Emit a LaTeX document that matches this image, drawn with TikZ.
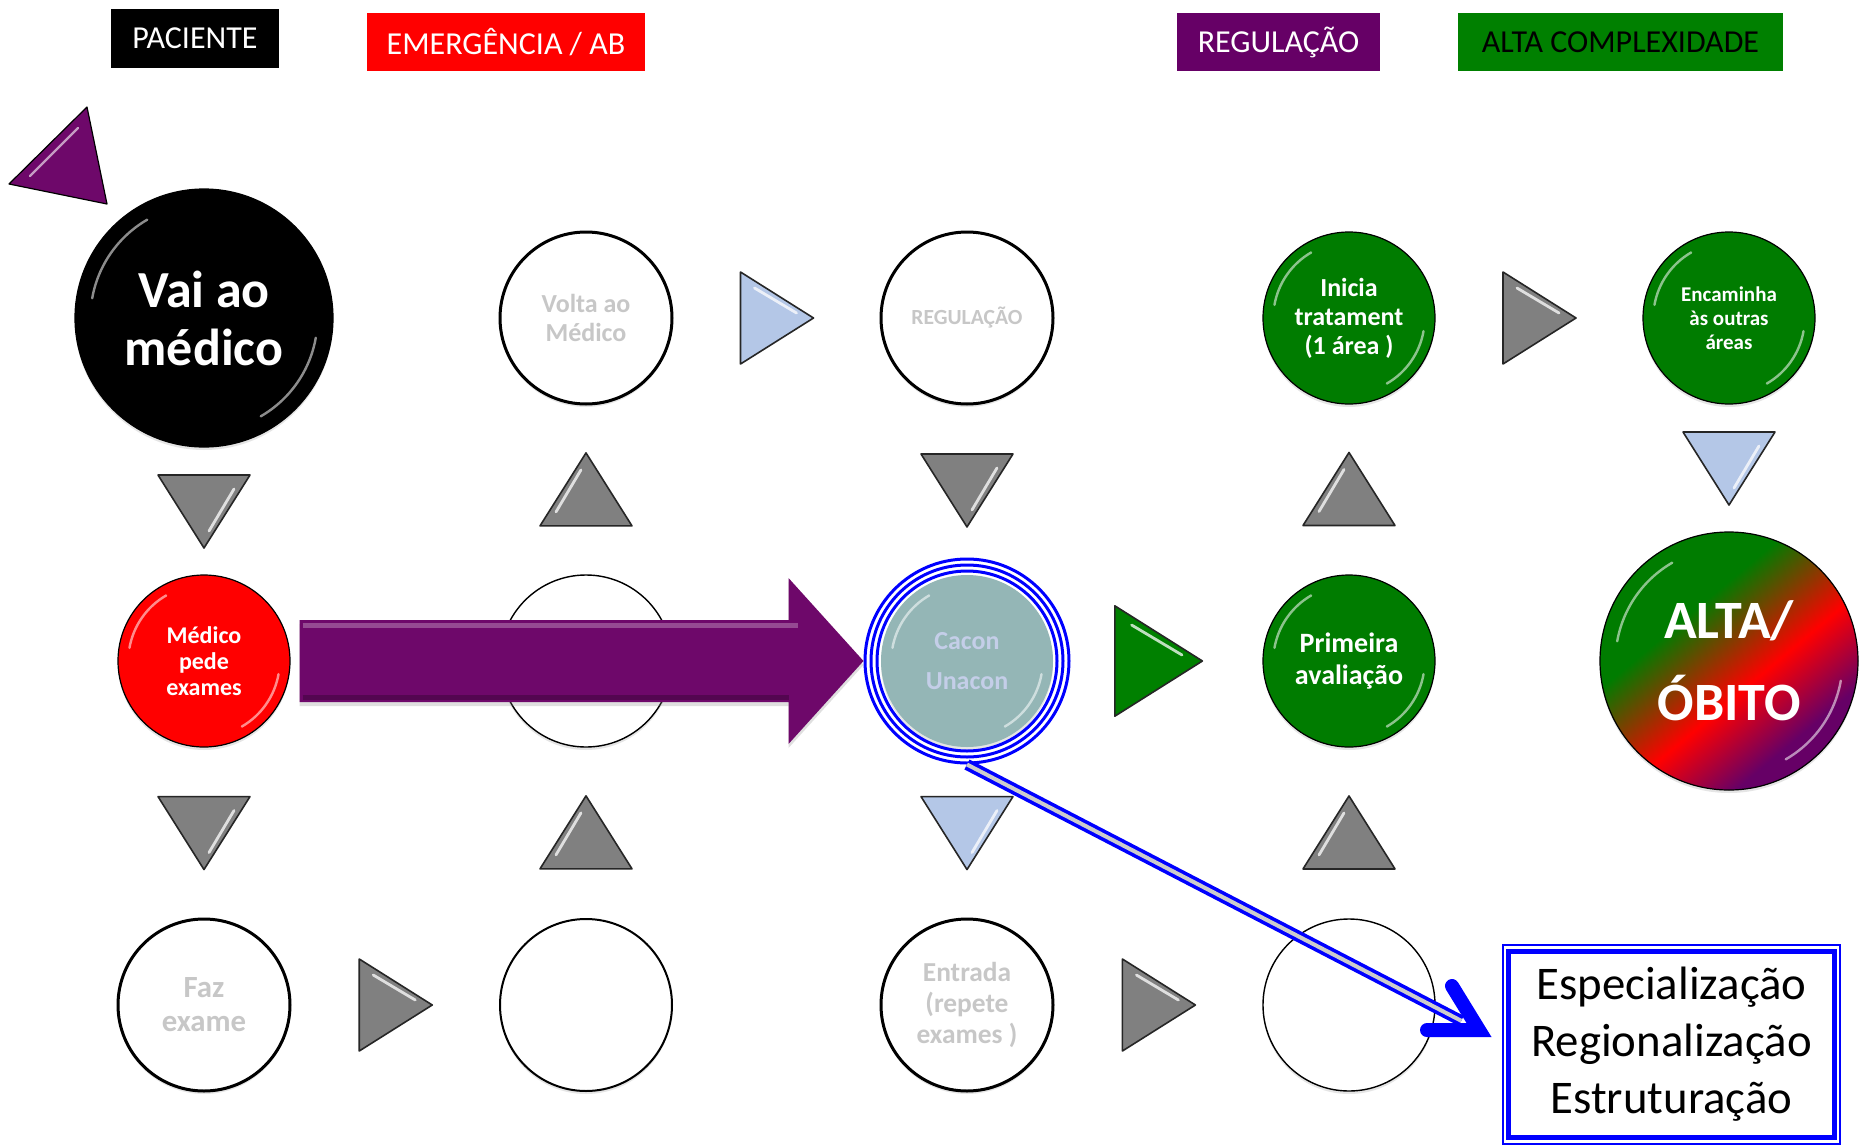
\documentclass[tikz,border=0pt]{standalone}
\usepackage{fontspec}
\setmainfont{Carlito}
\usetikzlibrary{calc,shadows}

\definecolor{regpurple}{RGB}{102,0,102}
\definecolor{arrowpurple}{RGB}{110,8,106}
\definecolor{altagreen}{RGB}{0,128,0}
\definecolor{ballgreen}{RGB}{0,124,0}
\definecolor{trigray}{RGB}{128,128,128}
\definecolor{triblue}{RGB}{180,199,231}
\definecolor{cacongray}{RGB}{148,182,182}
\definecolor{cacontext}{RGB}{196,206,232}
\pgfdeclareverticalshading{altashade}{100bp}{color(0bp)=(regpurple); color(30bp)=(regpurple);
  color(44bp)=(red); color(62bp)=(ballgreen); color(100bp)=(ballgreen)}

\begin{document}
\begin{tikzpicture}[x=0.5pt, y=-0.5pt,
  header/.style={fill=#1, inner sep=0pt, minimum height=29pt,
    font=\fontsize{16}{19}\selectfont},
  ball/.style={circle, inner sep=0pt, minimum size=86pt, align=center,
    font=\bfseries\fontsize{13}{14.5}\selectfont,
    drop shadow={shadow xshift=0pt, shadow yshift=-1.5pt, opacity=.2}},
  hollow/.style={ball, draw=black, line width=1.5pt, fill=white, text=black!22},
  glossy/.style={ball, draw=black, line width=.6pt, fill=#1, text=white,
    path picture={
      \draw[white, opacity=.55, line width=1.2pt, line cap=round]
        let \p1=(path picture bounding box.east), \p2=(path picture bounding box.center),
            \n1={0.88*(\x1-\x2)} in
        ($(\p2)+(170:\n1)$) arc[start angle=170, end angle=120, radius=\n1]
        ($(\p2)+(-10:\n1)$) arc[start angle=-10, end angle=-60, radius=\n1];
    }},
  tri/.pic={
    \draw[black!85, fill=#1, line width=.8pt, line join=round]
      (-36,-46) -- (37,0) -- (-36,46) -- cycle;
    \draw[white, opacity=.75, line width=1.4pt, line cap=round] (-22,-30) -- (20,-5);
  }]
  \path[use as bounding box, fill=white] (0,0) rectangle (1860,1146);

  \node[header=black, text=white, minimum width=84pt, minimum height=29.5pt] (paciente) at (195,38.5) {PACIENTE};
  \node[header=red, text=white, minimum width=139pt] (emerg) at (506,42) {EMERGÊNCIA / AB};
  \node[header=regpurple, text=white, minimum width=101.5pt] (regtitle) at (1278.5,42) {REGULAÇÃO};
  \node[header=altagreen, text=black, minimum width=162.5pt] (altatitle) at (1620.5,42) {ALTA COMPLEXIDADE};

  \fill[arrowpurple, draw=black, line width=.6pt, line join=round] (9,184) -- (87,107) -- (107,204) -- cycle;
  \draw[white, opacity=.6, line width=1.2pt, line cap=round] (30,176) -- (78,128);

  \node[glossy=black, minimum size=129pt, font=\bfseries\fontsize{26}{29}\selectfont] (vai) at (204,318) {Vai ao\\médico};
  \node[hollow] (volta) at (586,318) {Volta ao\\Médico};
  \node[hollow, font=\bfseries\fontsize{10.8}{13}\selectfont] (regul) at (967,318) {REGULAÇÃO};
  \node[glossy=ballgreen] (inicia) at (1349,318) {Inicia\\tratament\\(1 área )};
  \node[glossy=ballgreen, font=\bfseries\fontsize{10.5}{12}\selectfont] (encam) at (1729,318) {Encaminha\\às outras\\áreas};

  \node[glossy=red, font=\bfseries\fontsize{12}{13}\selectfont] (medico) at (204,661) {Médico\\pede\\exames};
  \node[hollow, line width=.7pt] (meio) at (586,661) {};
  \node[glossy=cacongray, draw=none, text=cacontext, font=\bfseries\fontsize{13}{20}\selectfont] (cacon) at (967,661) {Cacon\\Unacon};
  \node[circle, draw=blue, line width=1.5pt, minimum size=102pt, inner sep=0pt] (ring) at (cacon) {};
  \foreach \r in {96,90}
    \draw[blue, line width=1.5pt] (ring.center) circle[radius=\r];
  \node[glossy=ballgreen, font=\bfseries\fontsize{14}{16}\selectfont] (primeira) at (1349,661) {Primeira\\avaliação};
  \node[glossy=ballgreen, minimum size=129pt, shading=altashade, shading angle=40,
    font=\bfseries\fontsize{27}{41}\selectfont] (alta) at (1729,661) {ALTA/\\ÓBITO};

  \node[hollow, font=\bfseries\fontsize{15.4}{17}\selectfont] (faz) at (204,1005) {Faz\\exame};
  \node[hollow, line width=1pt] (vazio1) at (586,1005) {};
  \node[hollow, font=\bfseries\fontsize{13.7}{15.5}\selectfont] (entrada) at (967,1005) {Entrada\\(repete\\exames )};
  \node[hollow, line width=.7pt] (vazio2) at (1349,1005) {};

  \pic[rotate=-90] at ($(vai.south)!.5!(medico.north)$) {tri=trigray};
  \pic[rotate=90] at ($(volta.south)!.5!(meio.north)$) {tri=trigray};
  \pic at ($(volta.east)!.5!(regul.west)$) {tri=triblue};
  \pic[rotate=-90] at ($(regul.south)!.5!(cacon.north)$) {tri=trigray};
  \pic[rotate=90] at ($(inicia.south)!.5!(primeira.north)$) {tri=trigray};
  \pic at ($(inicia.east)!.5!(encam.west)$) {tri=trigray};
  \pic[rotate=-90] at ($(encam.south)!.5!(alta.north)$) {tri=triblue};
  \pic[scale=1.2] at ($(cacon.east)!.5!(primeira.west)$) {tri=altagreen};
  \pic[rotate=-90] at ($(medico.south)!.5!(faz.north)$) {tri=trigray};
  \pic[rotate=90] at ($(meio.south)!.5!(vazio1.north)$) {tri=trigray};
  \pic[rotate=-90] at ($(cacon.south)!.5!(entrada.north)$) {tri=triblue};
  \pic[rotate=90] at ($(primeira.south)!.5!(vazio2.north)$) {tri=trigray};
  \pic at ($(faz.east)!.5!(vazio1.west)$) {tri=trigray};
  \pic at ($(entrada.east)!.5!(vazio2.west)$) {tri=trigray};

  \coordinate (arrow tail) at ($(medico.east)+(9,0)$);
  \fill[arrowpurple, drop shadow={shadow xshift=0pt, shadow yshift=-2pt, opacity=.25}]
    ($(arrow tail)+(0,-41)$) -- ($(ring.west)+(-75,-41)$) -- ($(ring.west)+(-75,-83)$)
    -- (ring.west) -- ($(ring.west)+(-75,83)$) -- ($(ring.west)+(-75,41)$)
    -- ($(arrow tail)+(0,41)$) -- cycle;
  \draw[arrowpurple!55!white, opacity=.6, line width=2.5pt] ($(arrow tail)+(3,-36)$) -- ($(ring.west)+(-66,-36)$);
  \draw[arrowpurple!60!black, opacity=.6, line width=2.5pt] ($(arrow tail)+(3,36)$) -- ($(ring.west)+(-75,36)$);

  \node[draw=blue, line width=2.5pt, fill=white, minimum width=163pt, minimum height=93pt, align=center,
    font=\fontsize{23.4}{28.5}\selectfont] (spec) at (1671.5,1044.5) {Especialização\\Regionalização\\Estruturação};
  \draw[blue, line width=.7pt] ([shift={(-3,-4)}]spec.north west) rectangle ([shift={(3,4)}]spec.south east);

  \coordinate (spec tip) at (1479,1030);
  \draw[blue, double=black!20, line width=1.8pt, double distance=2pt, shorten >=10pt] (ring.south) -- (spec tip);
  \draw[blue, line width=7pt, line cap=round, line join=miter]
    ($(spec tip)+(-27,-44)$) -- (spec tip) -- ($(spec tip)+(-52,0)$);
\end{tikzpicture}
\end{document}
